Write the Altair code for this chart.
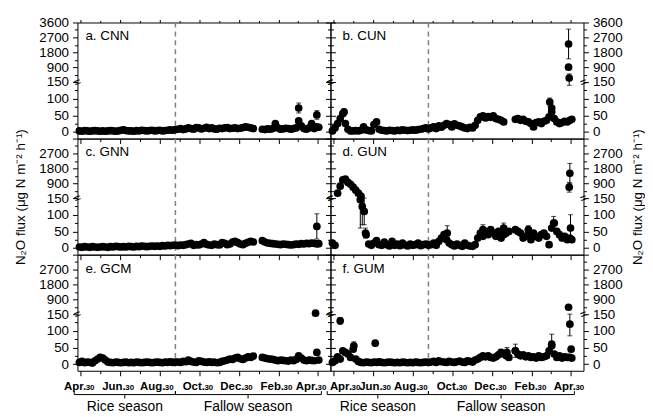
import altair as alt
import pandas as pd

# ---------------- data (days after Apr.30; N2O flux, ug N m-2 h-1) ----------------
days = [-2, 2, 6, 10, 14, 18, 22, 26, 30, 34,
        38, 42, 46, 50, 54, 58, 62, 66, 70, 74,
        78, 82, 86, 90, 94, 98, 102, 106, 110, 114,
        118, 122, 126, 130, 134, 138, 142, 146, 150, 154,
        158, 162, 166, 170, 174, 178, 182, 186, 190, 194,
        198, 202, 206, 210, 214, 218, 222, 226, 230, 234,
        238, 242, 246, 250, 254, 258, 262, 266, 270, 280,
        284, 288, 292, 296, 300, 304, 308, 312, 316, 320,
        324, 328, 332, 336, 340, 344, 348, 352, 356, 360,
        364, 367]

cnn = [3, 2, 4, 3, 2, 3, 4, 3, 2, 3,
       2, 3, 4, 3, 2, 3, 5, 6, 4, 3,
       3, 2, 4, 3, 5, 4, 3, 4, 5, 3,
       4, 5, 3, 4, 5, 6, 5, 7, 8, 10,
       7, 9, 12, 10, 8, 13, 12, 9, 11, 14,
       10, 12, 9, 8, 11, 10, 12, 13, 10, 11,
       12, 10, 11, 13, 15, 14, 12, 10, None, 8,
       7, 9, 8, 10, 25, 12, 8, 9, 11, 10,
       8, 10, 12, 33, 18, 10, 8, 12, 25, 10,
       15, 14]

cun = [3, 12, 25, 40, 55, 25, 8, 3, 3, 4,
       3, 5, 15, 6, 4, 3, 22, 30, 8, 5,
       4, 3, 5, 4, 3, 5, 4, 6, 5, 4,
       5, 6, 5, 7, 8, 10, 12, 9, 12, 15,
       10, 18, 14, 20, 25, 22, 15, 24, 20, 18,
       15, 12, 10, 14, 12, 20, 35, 45, 48, 42,
       46, 44, 48, 40, 38, 35, 30, None, None, 38,
       40, 35, 38, 32, 30, 25, 15, 28, 30, 25,
       32, 35, 45, 60, 40, 30, 25, 28, 32, 30,
       35, 38]

gnn = [3, 2, 4, 3, 2, 4, 3, 2, 3, 4,
       3, 2, 4, 3, 5, 4, 3, 4, 3, 5,
       4, 3, 5, 4, 6, 5, 4, 5, 6, 5,
       6, 5, 7, 6, 8, 7, 8, 9, 7, 9,
       8, 10, 12, 14, 8, 10, 9, 12, 16, 11,
       9, 8, 12, 10, 9, 16, 14, 10, 12, 18,
       20, 16, 12, 10, 14, 17, 20, 18, None, 22,
       18, 15, 14, 13, 12, 11, 10, 12, 11, 10,
       9, 10, 12, 11, 13, 12, 14, 13, 15, 14,
       12, 13]

gun = [15, 8, 400, 750, 1100, 1150, 950, 850, 700, 550,
       400, 250, None, 40, 12, 8, 15, 22, 10, 8,
       18, 10, 6, 20, 8, 12, 7, 15, 9, 6,
       12, 8, 10, 15, 7, 10, 12, 8, 10, 15,
       8, 20, 30, 40, 25, 15, 10, 6, 12, 8,
       5, 15, 8, 6, 5, 10, 30, 45, 35, 50,
       40, 55, 45, 35, 50, 30, 40, 45, 50, 55,
       50, 45, 30, 35, 40, 25, 45, 35, 30, 40,
       45, 35, 10, 60, 75, 50, 40, 30, 35, 25,
       30, 25]

gcm = [5, 8, 4, 6, 5, 3, 10, 15, 20, 18,
       12, 6, 5, 4, 6, 5, 4, 5, 6, 4,
       5, 4, 6, 5, 4, 5, 6, 5, 4, 5,
       6, 5, 4, 6, 5, 7, 5, 6, 6, 5,
       8, 7, 12, 8, 6, 5, 10, 8, 6, 5,
       7, 5, 6, 4, 5, 8, 10, 12, 15, 14,
       18, 20, 16, 14, 18, 22, 20, 24, None, 20,
       18, 16, 15, 14, 12, 10, 12, 11, 10, 9,
       12, 10, 14, 25, 18, 12, 10, 12, 11, 10,
       35, 12]

gum = [5, 10, 22, 15, 40, 35, 30, 20, 45, 15,
       8, 5, 4, 6, 5, 4, 6, 5, 7, 5,
       4, 5, 6, 5, 4, 5, 4, 6, 5, 4,
       5, 4, 6, 5, 4, 5, 6, 5, 6, 8,
       5, 10, 7, 6, 5, 8, 6, 5, 7, 9,
       6, 5, 10, 8, 6, 12, 15, 20, 25, 22,
       25, 20, 18, 22, 28, 35, 30, 25, 20, 40,
       30, 25, 28, 22, 25, 20, 22, 18, 25, 20,
       22, 25, 40, 55, 30, 20, 25, 18, 22, 20,
       20, 18]

# points with visible error bars: (day, flux, standard error)
cnn_err = [(336, 72, 15), (364, 51, 13)]
cun_err = [(16, 60, 8), (333, 90, 12), (336, 72, 0), (362, 2300, 900),
           (362, 900, 0), (363, 350, 210)]
gnn_err = [(364, 65, 38)]
gun_err = [(41, 145, 85), (44, 125, 55), (47, 110, 40), (49, 45, 15),
           (175, 45, 22), (230, 55, 15), (262, 60, 15), (300, 55, 12),
           (339, 75, 20), (364, 1500, 600), (363, 700, 250), (365, 60, 40)]
gcm_err = [(362, 200, 30)]
gum_err = [(10, 130, 10), (31, 55, 12), (64, 63, 8), (267, 35, 15),
           (280, 40, 20), (336, 60, 30), (362, 500, 0), (364, 120, 35),
           (366, 45, 0)]

panel_names = ["a. CNN", "b. CUN", "c. GNN", "d. GUN", "e. GCM", "f. GUM"]
series = [cnn, cun, gnn, gun, gcm, gum]
errs = [cnn_err, cun_err, gnn_err, gun_err, gcm_err, gum_err]

x_major = [0, 61, 122, 183, 244, 305, 365]
x_major_names = ["Apr.", "Jun.", "Aug.", "Oct.", "Dec.", "Feb.", "Apr."]
x_major_suffix = ["30", "30", "30", "30", "30", "30", "30"]
x_minor = [30, 91, 153, 214, 275, 334]
y_major = [0, 50, 100, 150, 900, 1800, 2700, 3600]
y_minor = [25, 75, 125, 525, 1350, 2250, 3150]
y_break = [150, 150]
x_edges = [-5, 385]

season_names = ["Rice season", "Fallow season"]
season_start = [-10, 146]
season_end = [146, 371]
season_mid = [68, 258]
season_split = [146]

# ---------------- styling ----------------
W, H = 255, 117
FONT = "Liberation Sans"
YTITLE = "N\u2082O flux (\u03bcg N m\u207b\u00b2 h\u207b\u00b9)"
# horizontal pixel shift of the month labels (left column, right column)
label_shift = [[5, 5, 5, 5, 5, 5, 0], [18, 9, 6, 6, 6, 6, 5]]

xs = alt.Scale(domain=x_edges, nice=False, zero=False)
ys = alt.Scale(domain=[-20, 150, 900, 3600], range=[H, 60, 45, 0], nice=False, zero=False)


def arr(vals):
    return "[" + ",".join(str(v) for v in vals) + "]"


def is_in(vals):
    return "indexof(" + arr(vals) + ", datum.value) >= 0"


y_ticks = y_major + y_minor
x_ticks = x_major + x_minor
y_tick_size = {"condition": {"test": is_in(y_major), "value": 5}, "value": 3}
x_tick_size = {"condition": {"test": is_in(x_major), "value": 5}, "value": 3}
top_tick_size = {"condition": {"test": is_in(x_major), "value": 3}, "value": 2}
names_js = "[" + ",".join("'" + n + "'" for n in x_major_names) + "]"
x_label_expr = (is_in(x_major) + " ? " + names_js + "[indexof(" + arr(x_major)
                + ", datum.value)] : ''")


def y_label_expr(row):
    labs = y_major if row == 0 else y_major[:-1]
    return is_in(labs) + " ? datum.label : ''"


def label_offset(col):
    shifts = label_shift[col]
    return {"condition": [{"test": "datum.value == " + str(v), "value": s}
                          for v, s in zip(x_major, shifts)],
            "value": shifts[2]}


charts = []
for i in range(6):
    row, col = divmod(i, 2)
    df = pd.DataFrame({"day": days, "flux": series[i]}).dropna()
    e = pd.DataFrame(errs[i], columns=["day", "flux", "sd"])
    e["lo"] = e["flux"] - e["sd"]
    e["hi"] = e["flux"] + e["sd"]
    eb = e[e["sd"] > 0]
    pts = pd.concat([df, e[["day", "flux"]]], ignore_index=True)

    left_kw = dict(orient="left", values=y_ticks, tickSize=y_tick_size,
                   labels=(col == 0), labelExpr=y_label_expr(row), format="d",
                   domain=False, grid=False, labelPadding=4, labelFlush=False,
                   title=None)
    if row == 1 and col == 0:
        left_kw.update(title=YTITLE, titlePadding=11)
    right_kw = dict(orient="right", values=y_ticks, tickSize=y_tick_size,
                    labels=(col == 1), labelExpr=y_label_expr(row), format="d",
                    domain=False, grid=False, labelPadding=4, labelFlush=False,
                    title=None)
    if row == 1 and col == 1:
        right_kw.update(title=YTITLE, titlePadding=8, titleAngle=270,
                        titleBaseline="top")
    bottom_kw = dict(orient="bottom", values=x_ticks, tickSize=x_tick_size,
                     domain=False, grid=False, labels=(row == 2),
                     labelFlush=False, title=None)
    if row == 2:
        bottom_kw.update(labelExpr=x_label_expr, labelFontWeight="bold",
                         labelFontSize=11.5, labelAlign="right",
                         labelOffset=label_offset(col), labelPadding=5)

    dash = alt.Chart(pd.DataFrame({"day": season_split})).mark_rule(
        color="#808080", strokeDash=[5, 4], strokeWidth=1.5
    ).encode(x=alt.X("day:Q", scale=xs, axis=None))

    bars = alt.Chart(eb).mark_rule(color="black", strokeWidth=1).encode(
        x=alt.X("day:Q", scale=xs, axis=None),
        y=alt.Y("lo:Q", scale=ys, axis=None),
        y2="hi:Q",
    )
    cap_hi = alt.Chart(eb).mark_tick(color="black", orient="horizontal",
                                     size=5, thickness=1).encode(
        x=alt.X("day:Q", scale=xs, axis=None),
        y=alt.Y("hi:Q", scale=ys, axis=None),
    )
    cap_lo = alt.Chart(eb).mark_tick(color="black", orient="horizontal",
                                     size=5, thickness=1).encode(
        x=alt.X("day:Q", scale=xs, axis=None),
        y=alt.Y("lo:Q", scale=ys, axis=None),
    )

    points = alt.Chart(pts).mark_circle(size=60, color="black", opacity=1).encode(
        x=alt.X("day:Q", scale=xs, axis=alt.Axis(**bottom_kw)),
        y=alt.Y("flux:Q", scale=ys, axis=alt.Axis(**left_kw)),
    )

    if row == 0:
        top_axis = alt.Axis(orient="top", values=x_ticks, tickSize=top_tick_size,
                            labels=False, domain=False, grid=False, title=None)
    else:
        top_axis = None
    brk = pd.DataFrame({"day": x_edges, "flux": y_break})
    breaks = alt.Chart(brk).mark_text(text="=", angle=340, fontSize=12,
                                      color="black").encode(
        x=alt.X("day:Q", scale=xs, axis=top_axis),
        y=alt.Y("flux:Q", scale=ys, axis=alt.Axis(**right_kw)),
    )

    label = alt.Chart(pd.DataFrame({"t": [panel_names[i]]})).mark_text(
        align="left", baseline="middle", fontSize=13.5, color="black"
    ).encode(text="t:N", x=alt.value(8 if col == 0 else 12), y=alt.value(14))

    layers = [dash, bars, cap_hi, cap_lo, points, breaks, label]

    if row == 2:
        d30 = pd.DataFrame({"day": x_major, "t": x_major_suffix,
                            "shift": label_shift[col]})
        for s in sorted(set(label_shift[col])):
            sub = d30[d30["shift"] == s]
            layers.append(alt.Chart(sub).mark_text(
                align="left", baseline="alphabetic", fontSize=8,
                fontWeight="bold", dx=s, color="black").encode(
                x=alt.X("day:Q", scale=xs, axis=None), y=alt.value(H + 19.5),
                text="t:N"))
        sea = pd.DataFrame({"name": season_names, "start": season_start,
                            "end": season_end, "mid": season_mid})
        hline = alt.Chart(sea).mark_rule(color="black", strokeWidth=1).encode(
            x=alt.X("start:Q", scale=xs, axis=None), x2="end:Q",
            y=alt.value(H + 24))
        tips = alt.Chart(sea).transform_fold(["start", "end"], as_=["k", "d"]).mark_rule(
            color="black", strokeWidth=1).encode(
            x=alt.X("d:Q", scale=xs, axis=None),
            y=alt.value(H + 20.5), y2=alt.value(H + 24))
        mids = alt.Chart(sea).mark_rule(color="black", strokeWidth=1).encode(
            x=alt.X("mid:Q", scale=xs, axis=None),
            y=alt.value(H + 24), y2=alt.value(H + 28))
        stext = alt.Chart(sea).mark_text(fontSize=14, baseline="alphabetic",
                                         color="black").encode(
            x=alt.X("mid:Q", scale=xs, axis=None), y=alt.value(H + 41),
            text="name:N")
        layers += [hline, tips, mids, stext]

    panel = alt.layer(*layers).properties(width=W, height=H).resolve_axis(
        x="independent", y="independent")
    charts.append(panel)

chart = alt.concat(*charts, columns=2, spacing=0, bounds="flush").properties(
    padding={"left": 5, "top": 5, "right": 0, "bottom": 0}
).configure(font=FONT).configure_view(
    stroke="black", strokeWidth=1
).configure_axis(
    labelFont=FONT, labelFontSize=13.5, labelColor="black", tickColor="black",
    tickWidth=1, titleFont=FONT, titleFontSize=13.5, titleFontWeight="normal",
    titleColor="black"
)

chart.save("out.html", embed_options={"renderer": "svg", "actions": False})
